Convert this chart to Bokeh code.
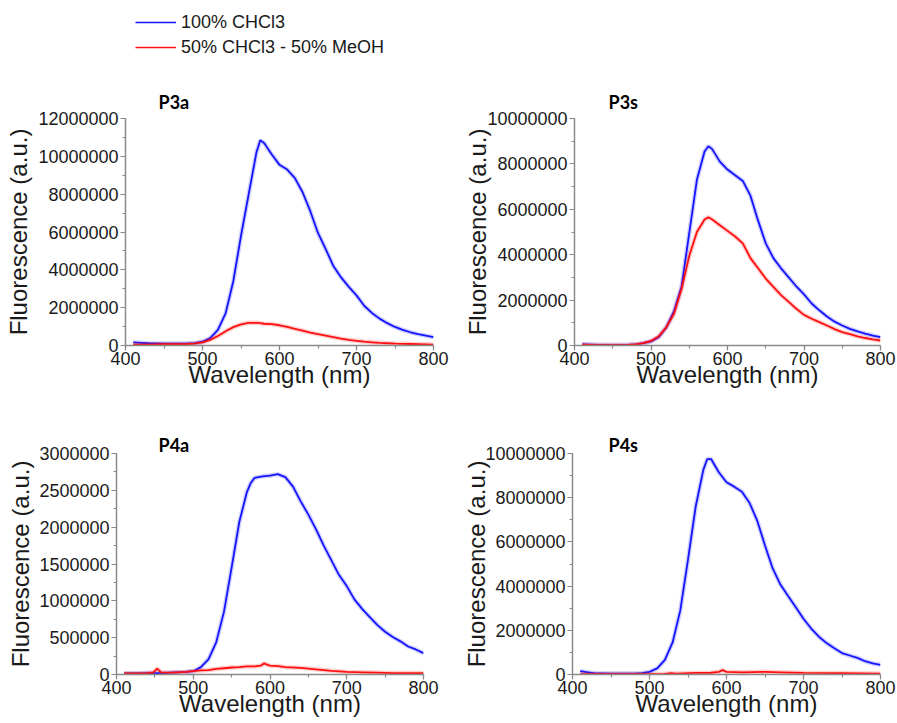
from bokeh.plotting import figure
from bokeh.models import (SingleIntervalTicker, BasicTickFormatter, Legend, LegendItem, Range1d)
from bokeh.layouts import column, row
from bokeh.embed import file_html
from bokeh.resources import INLINE

# ---------------- data (fluorescence in units of 1e6 a.u.) ----------------
wl = [410, 420, 430, 440, 450, 460, 470, 480, 490, 500, 510, 520, 530, 540, 550, 560, 570,
      575, 580, 590, 600, 610, 620, 630, 640, 650, 660, 670, 680, 690, 700, 710, 720, 730,
      740, 750, 760, 770, 780, 790, 800]

p3a_chcl3 = [0.16, 0.14, 0.12, 0.11, 0.10, 0.10, 0.10, 0.11, 0.13, 0.20, 0.39, 0.83, 1.7, 3.4,
             5.8, 8.0, 10.2, 10.85, 10.7, 10.1, 9.55, 9.3, 8.85, 8.1, 7.1, 5.95, 5.1, 4.2, 3.6,
             3.1, 2.65, 2.1, 1.72, 1.42, 1.18, 0.98, 0.83, 0.70, 0.60, 0.52, 0.44]
p3a_meoh = [0.05, 0.05, 0.05, 0.06, 0.07, 0.07, 0.07, 0.08, 0.10, 0.17, 0.30, 0.50, 0.75, 0.97,
            1.12, 1.20, 1.20, 1.18, 1.15, 1.13, 1.07, 0.98, 0.88, 0.78, 0.68, 0.60, 0.52, 0.44,
            0.36, 0.30, 0.25, 0.20, 0.17, 0.14, 0.12, 0.10, 0.09, 0.08, 0.07, 0.06, 0.05]

p3s_chcl3 = [0.05, 0.04, 0.03, 0.02, 0.02, 0.02, 0.03, 0.05, 0.10, 0.18, 0.37, 0.80, 1.5, 2.6,
             4.95, 7.3, 8.55, 8.78, 8.65, 8.1, 7.75, 7.5, 7.25, 6.6, 5.5, 4.5, 3.85, 3.4, 3.0,
             2.6, 2.25, 1.85, 1.55, 1.28, 1.05, 0.88, 0.73, 0.62, 0.52, 0.44, 0.37]
p3s_meoh = [0.04, 0.03, 0.02, 0.02, 0.02, 0.02, 0.03, 0.05, 0.10, 0.20, 0.40, 0.80, 1.4, 2.5,
            3.95, 5.0, 5.55, 5.65, 5.55, 5.3, 5.05, 4.8, 4.5, 3.85, 3.4, 2.95, 2.58, 2.22, 1.92,
            1.62, 1.35, 1.18, 1.03, 0.88, 0.72, 0.59, 0.50, 0.40, 0.33, 0.27, 0.22]

p4a_chcl3 = [0.015, 0.015, 0.015, 0.02, 0.02, 0.02, 0.025, 0.03, 0.035, 0.045, 0.10, 0.21, 0.44,
             0.85, 1.45, 2.07, 2.48, 2.6, 2.67, 2.69, 2.70, 2.72, 2.68, 2.55, 2.35, 2.17, 1.97,
             1.75, 1.55, 1.35, 1.2, 1.02, 0.89, 0.78, 0.67, 0.58, 0.51, 0.45, 0.38, 0.34, 0.29]
wl_p4a_meoh = [410, 420, 430, 440, 448, 453, 458, 470, 480, 490, 500, 510, 520, 530, 540, 550,
               560, 570, 580, 588, 592, 597, 600, 610, 620, 640, 660, 680, 700, 720, 740, 760,
               780, 800]
p4a_meoh = [0.015, 0.015, 0.015, 0.02, 0.03, 0.08, 0.03, 0.025, 0.03, 0.035, 0.045, 0.055, 0.06,
            0.075, 0.085, 0.095, 0.10, 0.11, 0.11, 0.12, 0.15, 0.13, 0.12, 0.115, 0.10, 0.09,
            0.07, 0.05, 0.035, 0.03, 0.025, 0.02, 0.02, 0.02]

p4s_chcl3 = [0.15, 0.10, 0.05, 0.045, 0.04, 0.04, 0.04, 0.04, 0.06, 0.12, 0.28, 0.66, 1.45, 2.9,
             5.2, 7.6, 9.27, 9.75, 9.75, 9.15, 8.7, 8.5, 8.27, 7.76, 6.95, 5.84, 4.8, 4.07, 3.55,
             3.04, 2.52, 2.08, 1.71, 1.42, 1.19, 0.97, 0.86, 0.75, 0.6, 0.5, 0.44]
wl_p4s_meoh = [410, 440, 470, 500, 520, 528, 535, 560, 580, 590, 595, 600, 620, 650, 670, 700,
               750, 800]
p4s_meoh = [0.02, 0.02, 0.02, 0.02, 0.03, 0.06, 0.04, 0.07, 0.08, 0.12, 0.20, 0.12, 0.10, 0.12,
            0.10, 0.07, 0.06, 0.04]

SCALE = 1e6
series_labels = ["100% CHCl3", "50% CHCl3 - 50% MeOH"]
x_label = "Wavelength (nm)"
y_label = "Fluorescence (a.u.)"

BLUE = "#1414ff"
RED = "#ff1010"
AXIS = "#8a8a8a"
TXT = "#1a1a1a"
FONT = "Liberation Sans"


def panel(title, ymax, yint, blue_x, blue_y, red_x, red_y, width, height, left, right,
          top, bottom, title_off, title_standoff, ylab_standoff):
    p = figure(width=width, height=height, x_range=Range1d(400, 800),
               y_range=Range1d(0, ymax), output_backend="svg", toolbar_location=None,
               min_border_left=left, min_border_right=right, min_border_top=top,
               min_border_bottom=bottom)
    p.outline_line_color = None
    p.grid.visible = False
    p.background_fill_color = "white"
    p.border_fill_color = "white"

    p.title.text = title
    p.title.text_font = "Lato"
    p.title.text_font_style = "bold"
    p.title.text_font_size = "18px"
    p.title.text_color = "black"
    p.title.align = "left"
    p.title.offset = title_off
    p.title.standoff = title_standoff

    p.xaxis.ticker = SingleIntervalTicker(interval=100, num_minor_ticks=2)
    p.yaxis.ticker = SingleIntervalTicker(interval=yint, num_minor_ticks=2)
    p.yaxis.formatter = BasicTickFormatter(use_scientific=False)
    for ax in (p.xaxis[0], p.yaxis[0]):
        ax.axis_line_color = AXIS
        ax.axis_line_width = 1.5
        ax.major_tick_line_color = AXIS
        ax.minor_tick_line_color = AXIS
        ax.major_tick_line_width = 1.2
        ax.minor_tick_line_width = 1.2
        ax.major_tick_out = 5
        ax.major_tick_in = 0
        ax.minor_tick_out = 3
        ax.minor_tick_in = 0
        ax.major_label_text_font = FONT
        ax.major_label_text_font_size = "18px"
        ax.major_label_text_color = TXT
        ax.axis_label_text_font = FONT
        ax.axis_label_text_font_size = "24px"
        ax.axis_label_text_font_style = "normal"
        ax.axis_label_text_color = TXT
    p.xaxis.major_label_standoff = 1
    p.yaxis.major_label_standoff = 2
    p.yaxis.axis_label = y_label
    p.yaxis.axis_label_standoff = ylab_standoff
    p.xaxis.axis_label = x_label
    p.xaxis.axis_label_standoff = -7

    bx = list(blue_x)
    by = [v * SCALE for v in blue_y]
    rx = list(red_x)
    ry = [v * SCALE for v in red_y]
    # faint halo mimicking the dense error bars, then the data line
    p.line(bx, by, color=BLUE, line_width=4.5, line_alpha=0.2)
    p.line(bx, by, color=BLUE, line_width=1.8)
    p.line(rx, ry, color=RED, line_width=4.5, line_alpha=0.2)
    p.line(rx, ry, color=RED, line_width=1.8)
    return p


# legend strip (its sample lines lie outside its visible range; only the legend shows)
leg = figure(width=896, height=80, x_range=(0, 1), y_range=(0, 1), output_backend="svg",
             toolbar_location=None, x_axis_location=None, y_axis_location=None, min_border=0)
leg.outline_line_color = None
leg.grid.visible = False
rb = leg.line(x=[5, 6], y=[5, 6], color=BLUE, line_width=1.6)
rr = leg.line(x=[5, 6], y=[5, 6], color=RED, line_width=1.6)
legend = Legend(items=[LegendItem(label=series_labels[0], renderers=[rb]),
                       LegendItem(label=series_labels[1], renderers=[rr])],
                location=(135, 22), padding=0, margin=0, spacing=3, label_height=22,
                glyph_height=22, glyph_width=41, label_standoff=5,
                label_text_font=FONT, label_text_font_size="18px", label_text_color=TXT,
                border_line_color=None, background_fill_alpha=0)
leg.add_layout(legend)

f1 = panel("P3a", 12e6, 2e6, wl, p3a_chcl3, wl, p3a_meoh, 450, 345, 125, 17, 38, 80,
           33, 12, 3)
f2 = panel("P3s", 10e6, 2e6, wl, p3s_chcl3, wl, p3s_meoh, 446, 345, 124, 16, 38, 80,
           34, 12, -7)
f3 = panel("P4a", 3e6, 5e5, wl, p4a_chcl3, wl_p4a_meoh, p4a_meoh, 450, 297, 116, 27, 28, 48,
           42, -4, 2)
f4 = panel("P4s", 10e6, 2e6, wl, p4s_chcl3, wl_p4s_meoh, p4s_meoh, 446, 297, 122, 16, 28, 48,
           36, -4, -8)

layout = column(leg, row(f1, f2), row(f3, f4))
open("out.html", "w").write(file_html(layout, INLINE))
